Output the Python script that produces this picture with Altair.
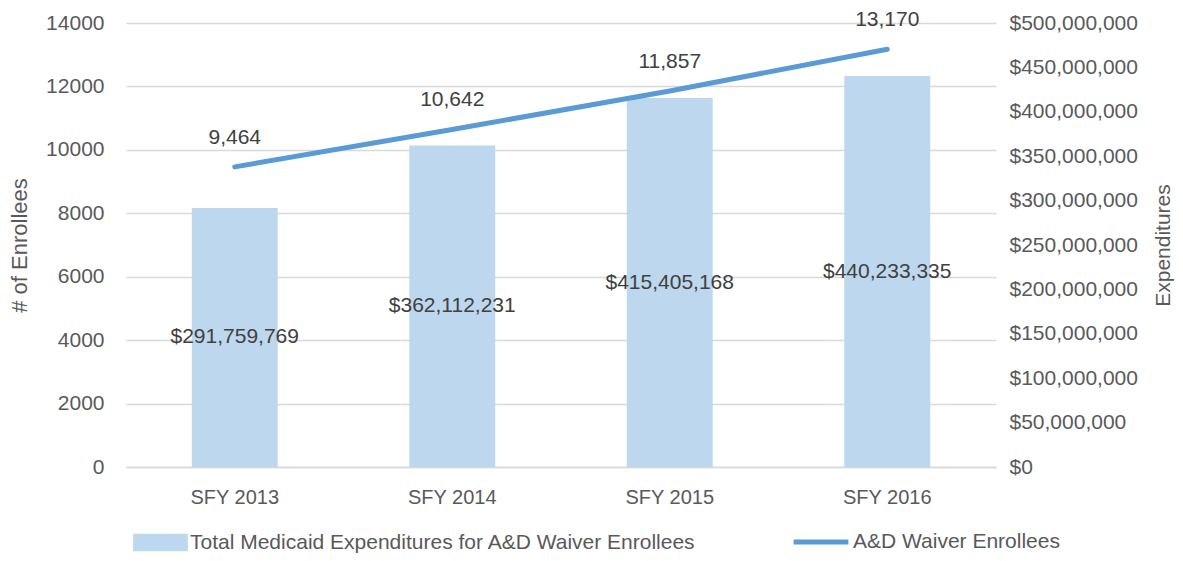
import altair as alt
import pandas as pd

categories = ["SFY 2013", "SFY 2014", "SFY 2015", "SFY 2016"]
enrollees = [9464, 10642, 11857, 13170]
expenditures = [291759769, 362112231, 415405168, 440233335]
bar_series = "Total Medicaid Expenditures for A&D Waiver Enrollees"
line_series = "A&D Waiver Enrollees"
left_ticks = [0, 2000, 4000, 6000, 8000, 10000, 12000, 14000]
right_ticks = [0, 50000000, 100000000, 150000000, 200000000, 250000000,
               300000000, 350000000, 400000000, 450000000, 500000000]

df = pd.DataFrame({
    "cat": categories,
    "enr": enrollees,
    "exp": expenditures,
    "bs": [bar_series] * 4,
    "ls": [line_series] * 4,
})

FONT = "Liberation Sans"
GRAY = "#595959"
DARK = "#404040"

x = alt.X("cat:N", sort=categories, title=None,
          scale=alt.Scale(paddingInner=0.605, paddingOuter=0.3025),
          axis=alt.Axis(labelAngle=0, ticks=False, labelPadding=20, labelFontSize=20,
                        labelColor=GRAY, labelFont=FONT, domainColor="#d9d9d9",
                        domainWidth=1.5))

exp_scale = alt.Scale(domain=[0, 500000000], nice=False)
enr_scale = alt.Scale(domain=[0, 14000], nice=False)

exp_axis = alt.Axis(orient="right", values=right_ticks, format="$,.0f", grid=False,
                    domain=False, ticks=False, labelPadding=13, labelFontSize=21,
                    labelColor=GRAY, labelFont=FONT, titleFontSize=21,
                    titleFontWeight="normal", titleColor=GRAY, titleFont=FONT,
                    titleX=167, titleY=222, titleAngle=-90, titleBaseline="middle",
                    titleAlign="center")
enr_axis = alt.Axis(orient="left", values=left_ticks, format="d", grid=True,
                    gridColor="#d9d9d9", gridWidth=1.5, domain=False, ticks=False,
                    labelPadding=22, labelFontSize=21, labelColor=GRAY, labelFont=FONT,
                    titleFontSize=22, titleFontWeight="normal", titleColor=GRAY,
                    titleFont=FONT, titleX=-107, titleY=222, titleAngle=-90,
                    titleBaseline="middle", titleAlign="center")

base = alt.Chart(df).transform_calculate(mid="datum.exp / 2")

bars = base.mark_bar(color="#bdd7ee").encode(
    x=x,
    y=alt.Y("exp:Q", scale=exp_scale, title="Expenditures", axis=exp_axis),
    fill=alt.Fill("bs:N", scale=alt.Scale(domain=[bar_series], range=["#bdd7ee"]),
                  legend=alt.Legend(orient="none", legendX=7, legendY=492, title=None,
                                    symbolType="M-1,-0.32H1V0.32H-1Z", symbolSize=3000,
                                    symbolStrokeWidth=0, labelFontSize=21, labelColor=GRAY,
                                    labelFont=FONT, labelLimit=800, padding=0,
                                    labelOffset=2)),
)

bar_text = base.mark_text(
    fontSize=21, color=DARK, font=FONT, baseline="middle"
).encode(
    x=alt.X("cat:N", sort=categories),
    y=alt.Y("mid:Q", scale=exp_scale, title="Expenditures", axis=exp_axis),
    text=alt.Text("exp:Q", format="$,.0f"),
)

line = base.mark_line(strokeWidth=5, strokeCap="round").encode(
    x=alt.X("cat:N", sort=categories),
    y=alt.Y("enr:Q", scale=enr_scale, title="# of Enrollees", axis=enr_axis),
    stroke=alt.Stroke("ls:N", scale=alt.Scale(domain=[line_series], range=["#5b9bd5"]),
                      legend=alt.Legend(orient="none", legendX=665, legendY=489, title=None,
                                        symbolType="stroke", symbolSize=3000,
                                        symbolStrokeWidth=5, labelFontSize=21,
                                        labelColor=GRAY, labelFont=FONT, labelLimit=800,
                                        padding=0, labelOffset=2)),
)

line_text = base.mark_text(fontSize=21, color=DARK, font=FONT, dy=-29, baseline="middle").encode(
    x=alt.X("cat:N", sort=categories),
    y=alt.Y("enr:Q", scale=enr_scale, title="# of Enrollees", axis=enr_axis),
    text=alt.Text("enr:Q", format=","),
)

chart = alt.layer(
    alt.layer(bars, bar_text),
    alt.layer(line, line_text),
).resolve_scale(y="independent").properties(
    width=870, height=444,
    background="white",
    autosize=alt.AutoSizeParams(type="none"),
    padding={"left": 118, "top": 15, "right": 179, "bottom": 86},
).configure_view(strokeWidth=0)

chart.save("out.html", embed_options={"renderer": "svg", "actions": False})
